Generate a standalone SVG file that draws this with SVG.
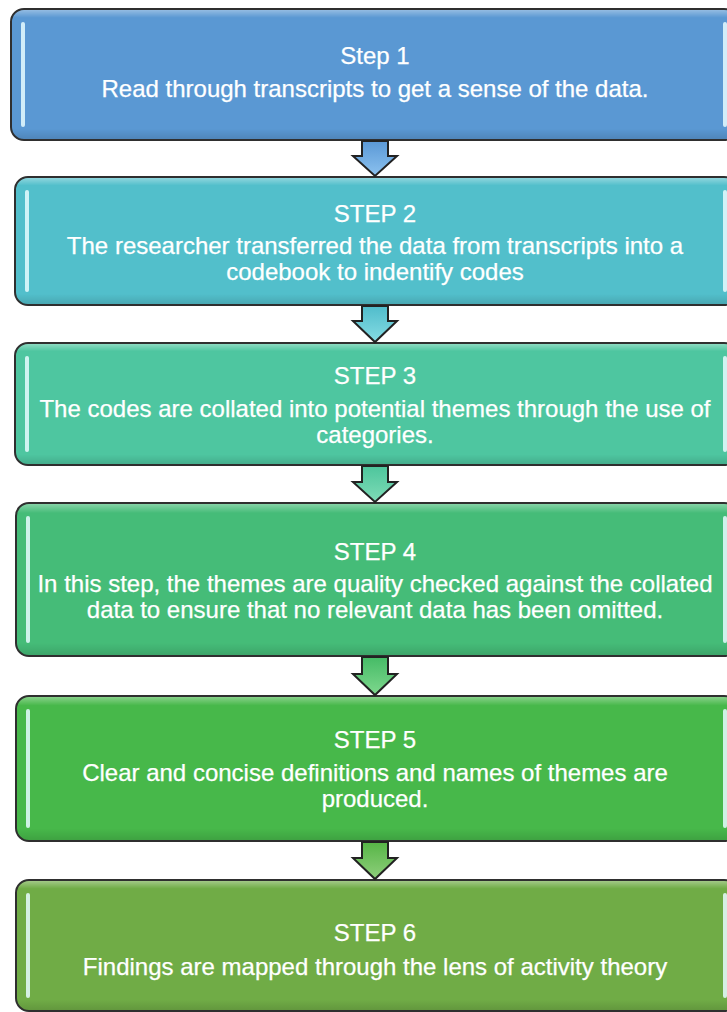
<svg xmlns="http://www.w3.org/2000/svg" width="727" height="1012" viewBox="0 0 727 1012">
  <style>
    .box { stroke: #2f2f2f; stroke-width: 2; }
    .bevel { fill: url(#bevel); }
    .hl { fill: #e6fbff; opacity: 0.85; }
    .t { font-family: "Liberation Sans", Arial, sans-serif; font-size: 24px; fill: #ffffff; text-anchor: middle; stroke: #ffffff; stroke-width: 0.25; }
    .arrow { stroke: #222; stroke-width: 2; stroke-linejoin: miter; }
  </style>
  <defs>
    <linearGradient id="bevel" x1="0" y1="0" x2="0" y2="1">
      <stop offset="0" stop-color="#ffffff" stop-opacity="0.35"/>
      <stop offset="0.06" stop-color="#ffffff" stop-opacity="0"/>
      <stop offset="0.92" stop-color="#000000" stop-opacity="0"/>
      <stop offset="1" stop-color="#000000" stop-opacity="0.12"/>
    </linearGradient>
    <linearGradient id="a1" x1="0" y1="0" x2="0" y2="1"><stop offset="0" stop-color="#5a98d6"/><stop offset="1" stop-color="#8cc2ef"/></linearGradient>
    <linearGradient id="a2" x1="0" y1="0" x2="0" y2="1"><stop offset="0" stop-color="#50bccb"/><stop offset="1" stop-color="#86dce4"/></linearGradient>
    <linearGradient id="a3" x1="0" y1="0" x2="0" y2="1"><stop offset="0" stop-color="#4dc59c"/><stop offset="1" stop-color="#7fdcb7"/></linearGradient>
    <linearGradient id="a4" x1="0" y1="0" x2="0" y2="1"><stop offset="0" stop-color="#45bb66"/><stop offset="1" stop-color="#7fd88e"/></linearGradient>
    <linearGradient id="a5" x1="0" y1="0" x2="0" y2="1"><stop offset="0" stop-color="#56b546"/><stop offset="1" stop-color="#8fcf7c"/></linearGradient>
  </defs>

  <!-- step boxes -->
  <g id="step1">
    <rect class="box" x="11" y="9" width="726" height="131" rx="13" fill="#5a98d3"/>
    <rect class="bevel" x="12" y="10" width="724" height="129" rx="12"/>
    <rect class="hl" x="21" y="22" width="4" height="105" rx="2"/>
    <rect class="hl" x="723" y="22" width="4" height="105" rx="2"/>
    <text class="t" x="375" y="64">Step 1</text>
    <text class="t" x="375" y="97">Read through transcripts to get a sense of the data.</text>
  </g>

  <g id="step2">
    <rect class="box" x="15" y="177" width="722" height="128" rx="13" fill="#52bfcb"/>
    <rect class="bevel" x="16" y="178" width="720" height="126" rx="12"/>
    <rect class="hl" x="25" y="190" width="4" height="102" rx="2"/>
    <rect class="hl" x="723" y="190" width="4" height="102" rx="2"/>
    <text class="t" x="375" y="222">STEP 2</text>
    <text class="t" x="375" y="254">The researcher transferred the data from transcripts into a</text>
    <text class="t" x="375" y="280">codebook to indentify codes</text>
  </g>

  <g id="step3">
    <rect class="box" x="15" y="343" width="722" height="122" rx="13" fill="#4ec6a0"/>
    <rect class="bevel" x="16" y="344" width="720" height="120" rx="12"/>
    <rect class="hl" x="25" y="356" width="4" height="96" rx="2"/>
    <rect class="hl" x="723" y="356" width="4" height="96" rx="2"/>
    <text class="t" x="375" y="384">STEP 3</text>
    <text class="t" x="375" y="417">The codes are collated into potential themes through the use of</text>
    <text class="t" x="375" y="443">categories.</text>
  </g>

  <g id="step4">
    <rect class="box" x="16" y="503" width="721" height="153" rx="13" fill="#45bc78"/>
    <rect class="bevel" x="17" y="504" width="719" height="151" rx="12"/>
    <rect class="hl" x="26" y="516" width="4" height="127" rx="2"/>
    <rect class="hl" x="723" y="516" width="4" height="127" rx="2"/>
    <text class="t" x="375" y="560">STEP 4</text>
    <text class="t" x="375" y="592">In this step, the themes are quality checked against the collated</text>
    <text class="t" x="375" y="618">data to ensure that no relevant data has been omitted.</text>
  </g>

  <g id="step5">
    <rect class="box" x="16" y="696" width="721" height="145" rx="13" fill="#47b84a"/>
    <rect class="bevel" x="17" y="697" width="719" height="143" rx="12"/>
    <rect class="hl" x="26" y="709" width="4" height="119" rx="2"/>
    <rect class="hl" x="723" y="709" width="4" height="119" rx="2"/>
    <text class="t" x="375" y="748">STEP 5</text>
    <text class="t" x="375" y="781">Clear and concise definitions and names of themes are</text>
    <text class="t" x="375" y="807">produced.</text>
  </g>

  <g id="step6">
    <rect class="box" x="16" y="880" width="721" height="131" rx="13" fill="#70ac46"/>
    <rect class="bevel" x="17" y="881" width="719" height="129" rx="12"/>
    <rect class="hl" x="26" y="893" width="4" height="105" rx="2" fill="#eaffd8"/>
    <rect class="hl" x="723" y="893" width="4" height="105" rx="2" fill="#eaffd8"/>
    <text class="t" x="375" y="941">STEP 6</text>
    <text class="t" x="375" y="975">Findings are mapped through the lens of activity theory</text>
  </g>

  <!-- connectors: block arrows between steps -->
  <g id="connectors">
    <path class="arrow" fill="url(#a1)" d="M362,141 H388 V156 H397 L375,176 L353,156 H362 Z"/>
    <path class="arrow" fill="url(#a2)" d="M362,306 H388 V321 H397 L375,342 L353,321 H362 Z"/>
    <path class="arrow" fill="url(#a3)" d="M362,466 H388 V482 H397 L375,502 L353,482 H362 Z"/>
    <path class="arrow" fill="url(#a4)" d="M362,657 H388 V674 H397 L375,695 L353,674 H362 Z"/>
    <path class="arrow" fill="url(#a5)" d="M362,842 H388 V858 H397 L375,879 L353,858 H362 Z"/>
  </g>
</svg>
